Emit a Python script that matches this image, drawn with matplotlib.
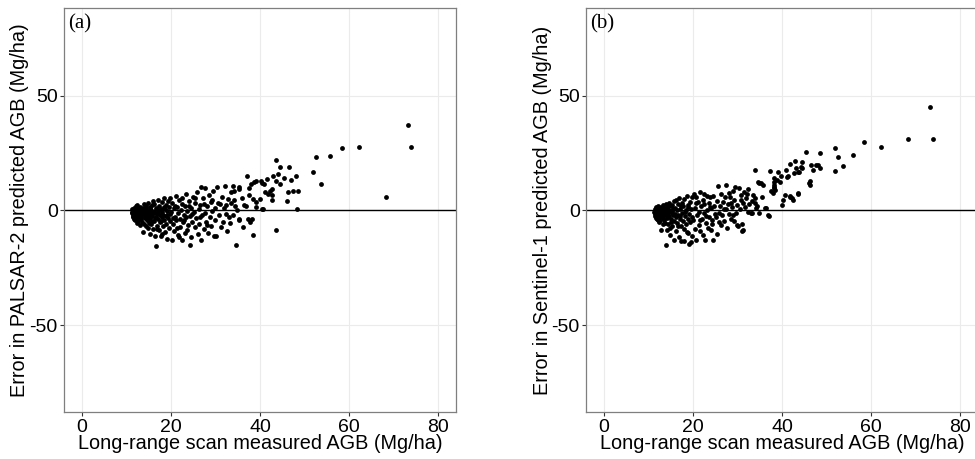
import numpy as np
import matplotlib
matplotlib.use("Agg")
import matplotlib.pyplot as plt

plt.rcParams['font.family'] = ['Liberation Sans', 'DejaVu Sans']
plt.rcParams['axes.unicode_minus'] = False

# panel (a): PALSAR-2 errors vs measured AGB
palsar_x = [
    11.2, 11.3, 11.4, 11.5, 11.6, 11.7, 11.8, 11.9, 12.0, 12.0, 12.1, 12.2, 12.3, 12.4, 12.5, 12.6, 12.7, 12.8, 12.9, 13.0,
    13.0, 13.1, 13.2, 13.3, 13.4, 13.5, 11.5, 11.9, 12.3, 12.6, 12.9, 13.3, 11.3, 11.8, 12.2, 12.7, 13.1, 13.4, 12.0, 12.5,
    13.6, 13.7, 13.8, 13.8, 13.9, 14.0, 14.1, 14.2, 14.3, 14.3, 14.4, 14.5, 14.6, 14.7, 14.8, 14.8, 14.9, 15.0, 15.1, 15.2,
    15.3, 15.4, 15.4, 15.5, 15.6, 15.7, 15.8, 15.9, 16.0, 16.0, 13.7, 14.0, 14.4, 14.9, 15.3, 15.8, 14.2, 15.0,
    16.1, 16.2, 16.3, 16.4, 16.5, 16.6, 16.7, 16.7, 16.8, 16.9, 17.0, 17.1, 17.2, 17.3, 17.4, 17.5, 17.6, 17.7, 17.8, 17.9,
    18.0, 18.1, 18.2, 18.3, 18.4, 18.5, 18.6, 18.7, 18.8, 18.9, 19.0, 19.1, 19.2, 19.3, 19.4, 19.5, 19.6, 19.7, 19.8, 19.9,
    16.4, 17.1, 17.7, 18.5, 19.2, 16.9, 18.1,
    20.0, 20.2, 20.3, 20.5, 20.6, 20.8, 20.9, 21.1, 21.2, 21.4, 21.5, 21.7, 21.8, 22.0, 22.1, 22.3, 22.5, 22.6, 22.8, 22.9,
    23.1, 23.2, 23.4, 23.5, 23.7, 23.8, 24.0, 24.2, 24.3, 24.5, 24.6, 24.8, 24.9, 20.4, 21.0, 21.9, 22.4, 23.0, 23.6, 24.1,
    24.7, 21.3,
    25.1, 25.3, 25.4, 25.6, 25.8, 26.0, 26.2, 26.3, 26.5, 26.8, 26.8, 27.0, 27.2, 27.4, 27.6, 27.7, 27.9, 28.1, 28.3, 28.5,
    28.7, 28.9, 29.0, 29.2, 29.4, 29.6, 29.8, 30.0, 25.5, 26.6, 27.5, 28.0, 29.3,
    30.2, 30.4, 30.6, 30.9, 31.0, 31.2, 31.4, 31.7, 32.0, 32.1, 32.3, 32.3, 32.5, 32.8, 33.0, 33.2, 33.5, 33.6, 33.9, 33.9,
    34.2, 34.4, 34.7, 34.9, 34.2,
    35.3, 35.3, 35.4, 35.4, 35.9, 36.3, 36.4, 36.9, 37.0, 37.4, 37.6, 37.6, 37.7, 37.9, 38.1, 38.4, 38.4, 38.7, 39.1, 39.2,
    39.1, 39.9,
    40.2, 40.4, 40.5, 40.7, 41.0, 41.1, 41.5, 41.8, 42.3, 42.7, 42.8, 42.7, 43.0, 43.6, 43.7, 43.7, 44.0, 44.4, 44.6, 45.4,
    46.1, 46.3, 46.5, 46.9, 47.4, 48.2, 48.5, 48.4,
    51.8, 52.5, 53.6, 55.8, 58.5, 62.3, 68.3, 73.3, 73.9,
]
palsar_err = [
    -1.0, 0.5, -2.3, -0.2, -3.1, 1.2, -1.5, 0.1, -4.2, -0.8, 1.8, -2.0, -0.4, -5.3, 0.9, -1.2, -3.0, 0.3, -2.6, 1.5,
    -0.9, -6.2, -1.8, 0.6, -3.6, -0.3, -1.6, -2.9, 2.2, -4.6, -0.6, -2.4, -0.6, -3.8, 0.7, -1.9, 0.0, -1.1, -1.4, -2.8,
    -4.9, 1.0, -9.5, -2.2, -0.7, 2.6, -3.4, -1.3, -6.8, 0.4, -2.0, 1.9, -4.0, -0.9, -7.6, 3.1, -2.7, -0.2, -5.5, 1.4,
    -1.6, -10.1, -3.2, 0.2, -6.1, 2.2, -2.4, -0.5, -8.3, 4.0, -1.5, -5.8, -0.3, -4.4, 0.9, -4.7, -2.9, -1.2,
    -1.2, 2.8, -4.5, -0.2, -11.0, -2.8, -15.7, 1.1, -6.6, -1.8, 4.6, -3.8, -0.7, -8.7, 1.9, -5.2, -2.0, 0.5, -11.2, -3.0,
    3.5, -0.9, -6.9, -1.9, 5.2, -4.1, 0.8, -9.4, -2.5, 2.4, -5.9, -0.4, -12.3, 4.1, -3.3, 1.3, -7.8, -1.4, 5.6, -4.7,
    -3.5, 0.1, -4.6, 1.5, -2.1, -8.0, -10.3,
    -0.6, -13.0, 3.0, -6.0, 0.9, -9.0, -2.8, 6.2, -4.3, 1.6, -10.7, -1.2, 4.5, -7.1, -3.6, 0.3, -13.0, 5.4, -5.2, -1.9,
    2.1, -9.8, -3.0, 7.3, -0.3, -6.4, 3.9, -15.2, -2.3, 0.9, -11.6, -4.9, 5.8, -3.3, 1.9, -11.5, 2.9, -4.4, -8.6, 1.7,
    -1.4, -7.7,
    -0.8, -7.3, 3.1, -3.5, 8.2, -10.4, 0.5, -5.8, 2.4, -13.0, 10.0, -2.0, 5.2, -8.1, 9.6, -1.0, -4.9, 1.8, -9.9, 6.5,
    -2.9, 3.7, -6.8, -0.1, 8.6, -11.3, 1.2, -4.1, 5.6, -3.1, 2.9, -6.2, 4.6,
    -11.0, 10.1, 3.2, -2.2, 2.8, -7.4, 6.0, -5.0, 0.9, 10.4, -1.4, 2.5, -8.9, 5.1, -3.1, -5.4, 7.9, 3.1, 10.6, -1.9,
    8.4, 1.9, -14.9, 0.0, 4.3,
    -3.9, 10.2, 9.4, -4.1, 5.5, -7.2, 2.2, 1.7, 14.9, -3.6, 9.6, 6.5, -5.0, 11.6, -3.8, 5.1, -10.6, 12.2, 3.5, 13.0,
    1.5, 4.9,
    12.7, 12.0, 0.7, 0.7, 11.6, 8.0, 13.5, 7.0, 8.5, 9.4, 6.8, 4.7, 15.1, -8.6, 21.9, 12.6, 15.8, 19.0, 11.4, 14.2,
    4.0, 8.0, 19.1, 13.3, 8.3, 14.9, 8.3, 0.6,
    16.7, 23.2, 11.3, 23.5, 27.2, 27.5, 5.8, 37.1, 27.7,
]

# panel (b): Sentinel-1 errors vs measured AGB
s1_x = [
    11.3, 11.4, 11.5, 11.6, 11.7, 11.8, 11.9, 12.0, 12.1, 12.1, 12.2, 12.3, 12.4, 12.5, 12.6, 12.7, 12.8, 12.8, 12.9, 13.0,
    13.1, 13.2, 13.3, 13.4, 13.5, 11.6, 12.0, 12.4, 12.7, 13.0, 13.4, 11.4, 11.9, 12.3, 12.9, 13.2,
    13.6, 13.7, 13.8, 13.9, 13.9, 14.0, 14.1, 14.2, 14.3, 14.4, 14.5, 14.6, 14.7, 14.8, 14.9, 15.0, 15.1, 15.2, 15.3, 15.4,
    15.5, 15.6, 15.7, 15.8, 15.9, 16.0, 13.8, 14.3, 14.8, 15.3, 15.8, 14.5, 15.0,
    16.1, 16.2, 16.3, 16.4, 16.5, 16.6, 16.7, 16.8, 16.9, 17.0, 17.1, 17.3, 17.3, 17.5, 17.6, 17.7, 17.8, 18.0, 18.0, 18.1,
    18.2, 18.4, 18.5, 18.6, 18.8, 18.9, 19.0, 19.1, 19.2, 19.3, 19.4, 19.5, 19.6, 19.7, 19.8, 19.9, 16.6, 17.4, 18.3, 19.0,
    17.2, 18.7,
    20.1, 20.2, 20.4, 20.5, 20.7, 20.8, 20.9, 21.1, 21.3, 21.4, 21.6, 21.7, 21.8, 22.0, 22.2, 22.3, 22.5, 22.6, 22.8, 22.9,
    23.1, 23.2, 23.4, 23.6, 23.7, 23.9, 24.0, 24.1, 24.3, 24.5, 24.6, 24.7, 24.9, 20.6, 21.5, 22.4, 23.0, 23.8, 24.4,
    25.2, 25.4, 25.5, 25.7, 25.8, 26.0, 26.2, 26.4, 26.6, 26.8, 27.0, 27.2, 27.4, 27.5, 27.7, 27.9, 28.1, 28.3, 28.5, 28.6,
    28.8, 29.0, 29.2, 29.3, 29.5, 29.6, 29.8, 30.0, 25.9, 26.9, 28.0, 29.0,
    30.1, 30.3, 30.5, 30.8, 30.8, 31.0, 31.1, 31.2, 31.3, 31.5, 31.8, 32.0, 32.2, 32.3, 32.4, 32.6, 33.0, 33.2, 33.3, 33.5,
    33.9, 34.0, 34.0, 34.3, 34.6, 34.9, 34.8, 34.2,
    35.3, 35.5, 35.7, 36.3, 36.5, 36.9, 37.0, 37.2, 37.5, 38.0, 38.1, 38.1, 38.2, 38.2, 38.3, 38.5, 38.9, 39.2, 39.6, 39.8,
    40.0,
    40.3, 40.7, 41.0, 41.2, 41.4, 41.7, 41.8, 41.8, 42.3, 42.5, 42.7, 42.9, 43.1, 43.6, 43.7, 43.7, 43.8, 44.2, 44.4, 44.5,
    45.5, 46.1, 46.2, 46.3, 46.6, 47.0, 47.7, 48.2, 48.5, 48.6,
    51.9, 51.9, 52.6, 53.7, 55.9, 58.5, 62.2, 68.3, 73.3, 73.8,
]
s1_err = [
    -0.9, 0.8, -2.4, -0.1, -3.5, 1.5, -1.4, 0.3, -4.4, -0.7, 2.0, -2.1, -0.3, -5.1, 1.1, -1.3, -8.7, -3.1, 0.4, -2.6,
    1.6, -0.8, -6.0, -1.7, 0.6, -1.7, -2.9, 1.3, -4.0, -0.4, -3.2, -0.4, -3.9, 0.9, -1.9, 2.3,
    -4.2, 0.9, -2.2, -15.2, -0.6, 2.7, -3.3, -8.5, -1.2, 0.4, -5.8, 3.4, -2.4, -0.1, -10.9, 1.8, -3.7, -1.0, -6.7, 2.5,
    -2.1, 0.6, -13.0, -4.8, 1.2, -1.6, -5.6, 1.9, -7.9, -0.4, 3.9, -3.0, -4.9,
    4.6, -3.0, -9.0, 0.2, -5.4, 2.9, -1.9, -11.6, 5.2, -3.8, 0.8, -13.5, -7.0, 3.4, -1.1, -4.5, 1.7, -13.5, -8.1, 4.9,
    -2.6, 0.3, -6.1, 6.1, -3.6, 1.4, -10.0, -14.6, -1.5, 3.8, -5.2, -14.0, 0.7, -11.3, -2.8, 5.9, -6.6, 2.0, -0.9, 2.5,
    -2.3, -9.4,
    -4.0, 7.2, -8.0, 0.9, -13.0, 6.0, -2.1, 3.5, -6.5, -0.5, -9.0, 8.1, 1.9, -3.6, 4.5, -10.6, -1.2, 2.8, -12.8, -5.3,
    6.4, 0.0, -7.7, 3.3, -2.7, 5.7, -8.7, 0.9, -4.4, 6.2, -12.8, 2.1, -1.6, 3.3, -4.4, 7.3, -2.4, 1.5, -6.0,
    -3.0, -10.4, 4.1, 10.6, -1.2, 1.9, -6.4, 7.1, -2.2, 3.5, -4.7, 5.9, 10.9, 0.6, -7.8, 2.8, -1.5, 5.8, 3.0, -3.7,
    1.5, 8.3, -4.5, 4.4, 10.0, -1.0, 2.4, -6.3, -5.2, 0.4, 7.6, -2.0,
    -7.0, 9.6, 0.8, 4.7, 6.5, -6.0, -9.0, 3.0, -8.4, 7.8, 1.3, 5.6, 7.0, -0.5, 9.2, 2.6, -1.0, 4.1, -1.1, 6.8,
    3.2, 17.7, 5.5, 2.0, 12.2, -1.0, 12.0, 1.2,
    12.0, 5.8, 11.0, 1.0, 1.2, -2.2, -2.3, 17.1, 8.5, 7.5, 9.7, 10.0, 14.0, 12.3, 11.0, 8.9, 13.2, 16.8, 12.4, 14.9,
    2.2,
    4.3, 6.5, 17.4, 14.6, 14.8, 6.2, 5.7, 20.3, 5.2, 4.5, 16.2, 21.3, 18.4, 7.3, 16.5, 7.7, 16.8, 19.0, 21.0, 18.5,
    25.5, 11.8, 11.0, 12.7, 19.8, 17.4, 19.8, 19.8, 18.3, 24.9,
    27.2, 17.2, 23.2, 19.3, 24.2, 30.0, 27.8, 31.2, 44.9, 31.2,
]

panels = [
    (palsar_x, palsar_err, "Error in PALSAR-2 predicted AGB (Mg/ha)", "(a)"),
    (s1_x, s1_err, "Error in Sentinel-1 predicted AGB (Mg/ha)", "(b)"),
]

fig = plt.figure(figsize=(9.75, 4.59), dpi=100)
lefts = [64 / 975, 586 / 975]
for (xs, ys, ylab, tag), left in zip(panels, lefts):
    ax = fig.add_axes([left, 0.1017, 0.402, 0.880])
    ax.set_xlim(-4, 84)
    ax.set_ylim(-88, 88)
    ax.set_xticks([0, 20, 40, 60, 80])
    ax.set_yticks([-50, 0, 50])
    ax.grid(True, color="#ebebeb", linewidth=0.8)
    ax.set_axisbelow(True)
    ax.axhline(0, color="black", linewidth=1.0, zorder=2)
    ax.scatter(xs, ys, s=12, color="black", linewidths=0, zorder=3)
    for sp in ax.spines.values():
        sp.set_color("#7f7f7f")
        sp.set_linewidth(0.9)
    ax.tick_params(axis="both", length=3, width=0.8, color="#333333",
                   labelsize=14, labelcolor="black", pad=1.5)
    ax.set_xlabel("Long-range scan measured AGB (Mg/ha)", fontsize=14.3, labelpad=-1)
    ax.set_ylabel(ylab, fontsize=14.3, labelpad=0)
    ax.text(0.01, 0.985, tag, transform=ax.transAxes, ha="left", va="top",
            fontsize=15, family=["Liberation Serif", "DejaVu Serif"])

fig.savefig("out.png", dpi=100)
